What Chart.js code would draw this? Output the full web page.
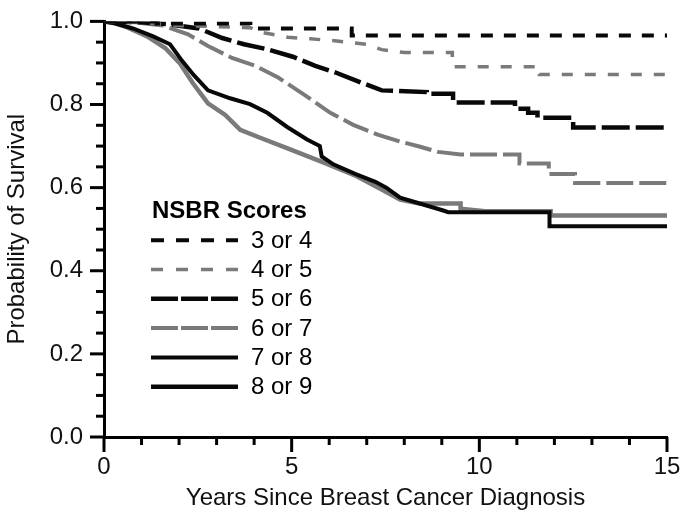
<!DOCTYPE html>
<html>
<head>
<meta charset="utf-8">
<script src="https://cdn.jsdelivr.net/npm/chart.js@4.4.1/dist/chart.umd.min.js"></script>
<style>
  html, body { margin: 0; padding: 0; background: #fff; }
  #wrap { width: 685px; height: 517px; }
</style>
</head>
<body>
<div id="wrap"><canvas id="kmChart" width="685" height="517"></canvas></div>
<script>
// Kaplan-Meier curves (years, survival probability)
var scoreLabels = ["3 or 4", "4 or 5", "5 or 6", "6 or 7", "7 or 8", "8 or 9"];

var s34Years = [0, 1.4, 1.4, 3.9, 3.9, 6.6, 6.6, 15];
var s34Surv  = [1, 1, 0.995, 0.995, 0.983, 0.983, 0.966, 0.966];

var s45Years = [0, 1, 2, 3.9, 4.1, 4.9, 5.5, 6.2, 7.0, 7.4, 8.0, 9.28, 9.28, 11.6, 11.6, 15];
var s45Surv  = [1, 0.997, 0.99, 0.985, 0.975, 0.962, 0.958, 0.953, 0.945, 0.932, 0.925, 0.925, 0.891, 0.891, 0.872, 0.872];

var s56Years = [0, 1.0, 1.73, 2.53, 3.15, 3.73, 4.3, 5.03, 5.63, 6.17, 6.85, 7.4, 8.6, 8.6, 9.3, 9.3, 10.95, 10.95, 11.3, 11.3, 11.55, 11.55, 12.5, 12.5, 15];
var s56Surv  = [1, 0.998, 0.993, 0.983, 0.96, 0.945, 0.934, 0.915, 0.893, 0.877, 0.853, 0.834, 0.83, 0.826, 0.826, 0.805, 0.805, 0.79, 0.79, 0.78, 0.78, 0.768, 0.768, 0.745, 0.745];

var s67Years = [0, 0.8, 1.57, 2.24, 2.77, 3.41, 4.03, 4.64, 5.36, 6.03, 6.64, 7.31, 7.89, 8.4, 8.9, 9.5, 11.07, 11.07, 11.85, 11.85, 12.55, 12.55, 15];
var s67Surv  = [1, 0.998, 0.99, 0.969, 0.941, 0.912, 0.893, 0.865, 0.822, 0.78, 0.751, 0.727, 0.711, 0.699, 0.686, 0.68, 0.68, 0.658, 0.658, 0.633, 0.633, 0.611, 0.611];

var s78Years = [0, 0.3, 0.77, 1.31, 1.76, 2.08, 2.4, 2.77, 3.36, 3.89, 4.35, 4.88, 5.41, 5.75, 5.8, 6.11, 6.69, 7.23, 7.52, 7.89, 8.59, 9.04, 9.17, 11.87, 11.87, 15];
var s78Surv  = [1, 0.995, 0.983, 0.964, 0.945, 0.905, 0.87, 0.834, 0.815, 0.801, 0.78, 0.746, 0.716, 0.7, 0.675, 0.656, 0.633, 0.614, 0.6, 0.576, 0.557, 0.545, 0.541, 0.541, 0.507, 0.507];

var s89Years = [0, 0.3, 0.61, 1.15, 1.63, 2.03, 2.37, 2.77, 3.23, 3.63, 4.16, 4.96, 5.84, 6.72, 7.41, 7.89, 8.4, 9.5, 9.5, 10.15, 11.9, 11.9, 15];
var s89Surv  = [1, 0.996, 0.986, 0.964, 0.936, 0.898, 0.851, 0.803, 0.775, 0.739, 0.72, 0.692, 0.661, 0.628, 0.595, 0.571, 0.562, 0.562, 0.549, 0.543, 0.543, 0.533, 0.533];

var xTitle = "Years Since Breast Cancer Diagnosis";
var yTitle = "Probability of Survival";
var legendTitle = "NSBR Scores";

var FONT = "'Liberation Sans', Arial, Helvetica, sans-serif";
var BLACK = "#080808";
var GREY = "#7a7a7a";

function pts(xs, ys) {
  var out = [];
  for (var i = 0; i < xs.length; i++) out.push({ x: xs[i], y: ys[i] });
  return out;
}

function isMajor(v, step) {
  return Math.abs(v / step - Math.round(v / step)) < 1e-6;
}

// tick marks with long majors and short minors, drawn on the library's scales
var axisTicks = {
  id: "axisTicks",
  afterDraw: function (chart) {
    var ctx = chart.ctx, xs = chart.scales.x, ys = chart.scales.y;
    var left = chart.chartArea.left, bottom = chart.chartArea.bottom;
    ctx.save();
    ctx.strokeStyle = "#000";
    ctx.lineWidth = 3;
    ctx.lineCap = "butt";
    ys.ticks.forEach(function (t) {
      var y = ys.getPixelForValue(t.value);
      var len = isMajor(t.value, 0.2) ? 14 : 8;
      ctx.beginPath();
      ctx.moveTo(left - len, y);
      ctx.lineTo(left, y);
      ctx.stroke();
    });
    xs.ticks.forEach(function (t) {
      var x = xs.getPixelForValue(t.value);
      var len = isMajor(t.value, 5) ? 15 : 8;
      ctx.beginPath();
      ctx.moveTo(x, bottom);
      ctx.lineTo(x, bottom + len);
      ctx.stroke();
    });
    ctx.restore();
  }
};

// legend block inside the plot
var scoreLegend = {
  id: "scoreLegend",
  afterDraw: function (chart) {
    var ctx = chart.ctx, a = chart.chartArea;
    var x0 = a.left + 47, y0 = a.top + 190;
    ctx.save();
    ctx.fillStyle = "#000";
    ctx.textBaseline = "middle";
    ctx.font = "bold 24px " + FONT;
    ctx.fillText(legendTitle, x0 + 1, y0);
    ctx.font = "24px " + FONT;
    chart.data.datasets.forEach(function (ds, i) {
      var y = y0 + 28.8 + i * 29.3;
      ctx.strokeStyle = ds.legendColor || ds.borderColor;
      ctx.lineWidth = ds.borderWidth;
      ctx.setLineDash(ds.legendDash || ds.borderDash || []);
      ctx.beginPath();
      ctx.moveTo(x0, y);
      ctx.lineTo(x0 + 87, y);
      ctx.stroke();
      ctx.setLineDash([]);
      ctx.fillStyle = "#000";
      ctx.fillText(ds.label, x0 + 100, y + 1);
    });
    ctx.restore();
  }
};

var ctx = document.getElementById("kmChart").getContext("2d");
var myChart = new Chart(ctx, {
  type: "line",
  data: {
    datasets: [
      { label: scoreLabels[0], data: pts(s34Years, s34Surv), borderColor: BLACK, borderWidth: 4, borderDash: [12, 11], legendDash: [13, 12] },
      { label: scoreLabels[1], data: pts(s45Years, s45Surv), borderColor: GREY, borderWidth: 3.5, borderDash: [11, 12], legendDash: [12, 13] },
      { label: scoreLabels[2], data: pts(s56Years, s56Surv), borderColor: BLACK, borderWidth: 4.5, borderDash: [28, 6], legendDash: [27, 3] },
      { label: scoreLabels[3], data: pts(s67Years, s67Surv), borderColor: GREY, borderWidth: 4, borderDash: [27, 6], legendDash: [27, 3] },
      { label: scoreLabels[4], data: pts(s78Years, s78Surv), borderColor: BLACK, borderWidth: 4 },
      { label: scoreLabels[5], data: pts(s89Years, s89Surv), borderColor: GREY, borderWidth: 4.5, legendColor: BLACK }
    ]
  },
  options: {
    responsive: false,
    animation: false,
    elements: {
      point: { radius: 0, hoverRadius: 0 },
      line: { tension: 0, fill: false, borderCapStyle: "butt", borderJoinStyle: "miter" }
    },
    layout: { padding: { top: 15, right: 18, left: 0, bottom: 0 } },
    plugins: {
      legend: { display: false },
      tooltip: { enabled: false }
    },
    scales: {
      x: {
        type: "linear",
        min: 0,
        max: 15,
        afterFit: function (s) { s.height = 80; },
        border: { display: true, color: "#000", width: 3 },
        grid: { drawOnChartArea: false, drawTicks: true, tickLength: 15, tickColor: "rgba(0,0,0,0)" },
        ticks: {
          stepSize: 1,
          padding: 1,
          autoSkip: false,
          maxRotation: 0,
          color: "#111",
          font: { family: FONT, size: 24 },
          callback: function (v) { return isMajor(v, 5) ? String(v) : ""; }
        },
        title: { display: true, text: xTitle, color: "#111", font: { family: FONT, size: 24 }, padding: { top: 0, bottom: 4 } }
      },
      y: {
        type: "linear",
        min: 0,
        max: 1,
        afterFit: function (s) { s.width = 104; },
        border: { display: true, color: "#000", width: 3 },
        grid: { drawOnChartArea: false, drawTicks: true, tickLength: 14, tickColor: "rgba(0,0,0,0)" },
        ticks: {
          stepSize: 0.05,
          padding: 7,
          autoSkip: false,
          color: "#111",
          font: { family: FONT, size: 24 },
          callback: function (v) { return isMajor(v, 0.2) ? v.toFixed(1) : ""; }
        },
        title: { display: true, text: yTitle, color: "#111", font: { family: FONT, size: 24 }, padding: { top: 3, bottom: 0 } }
      }
    }
  },
  plugins: [axisTicks, scoreLegend]
});
</script>
</body>
</html>
